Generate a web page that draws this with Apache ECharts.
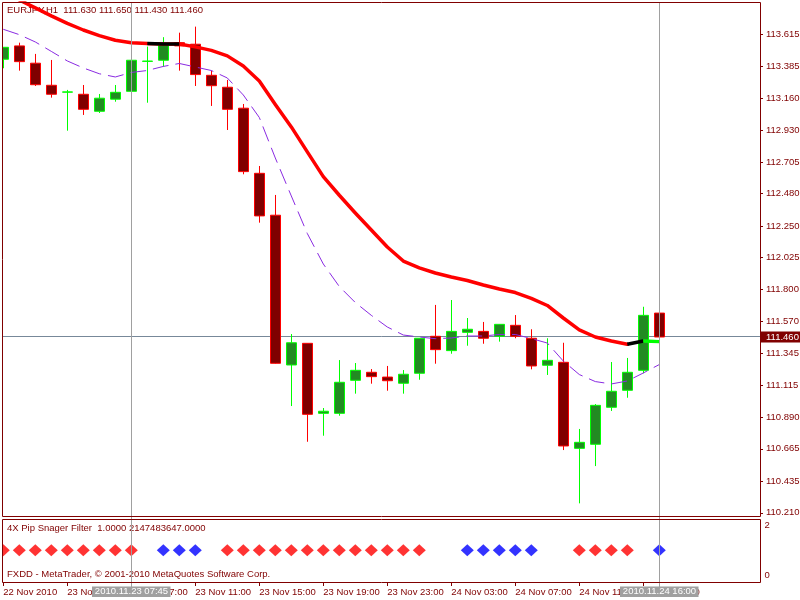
<!DOCTYPE html>
<html><head><meta charset="utf-8">
<script src="https://cdn.jsdelivr.net/npm/echarts@6/dist/echarts.min.js"></script>
<style>html,body{margin:0;padding:0;background:#fff}#c{width:800px;height:600px}</style>
</head><body><div id="c"></div>
<script>
const categories = [
 '22 Nov 23:00','23 Nov 00:00','23 Nov 01:00','23 Nov 02:00','23 Nov 03:00','23 Nov 04:00','23 Nov 05:00','23 Nov 06:00',
 '23 Nov 07:00','23 Nov 08:00','23 Nov 09:00','23 Nov 10:00','23 Nov 11:00','23 Nov 12:00','23 Nov 13:00','23 Nov 14:00',
 '23 Nov 15:00','23 Nov 16:00','23 Nov 17:00','23 Nov 18:00','23 Nov 19:00','23 Nov 20:00','23 Nov 21:00','23 Nov 22:00',
 '23 Nov 23:00','24 Nov 00:00','24 Nov 01:00','24 Nov 02:00','24 Nov 03:00','24 Nov 04:00','24 Nov 05:00','24 Nov 06:00',
 '24 Nov 07:00','24 Nov 08:00','24 Nov 09:00','24 Nov 10:00','24 Nov 11:00','24 Nov 12:00','24 Nov 13:00','24 Nov 14:00',
 '24 Nov 15:00','24 Nov 16:00','24 Nov 17:00','24 Nov 18:00','24 Nov 19:00','24 Nov 20:00','24 Nov 21:00','24 Nov 22:00'
];
const firstTickLabel = '22 Nov 2010';
const opens  = [113.435,113.530,113.407,113.250,113.201,113.186,113.065,113.151,113.207,113.420,113.428,113.553,113.542,113.321,113.236,113.087,112.624,112.326,111.261,111.415,110.917,110.917,111.152,111.209,111.175,111.131,111.202,111.465,111.363,111.493,111.500,111.465,111.543,111.451,111.259,111.280,110.668,110.697,110.960,111.081,111.223,111.630];
const closes = [113.520,113.418,113.254,113.186,113.203,113.079,113.158,113.200,113.428,113.422,113.537,113.530,113.326,113.247,113.079,112.636,112.321,111.273,111.419,110.910,110.932,111.138,111.223,111.178,111.149,111.195,111.451,111.370,111.500,111.515,111.451,111.550,111.465,111.254,111.294,110.685,110.711,110.974,111.074,111.209,111.614,111.460];
const lows   = [113.371,113.354,113.245,113.162,112.927,113.039,113.053,113.133,113.205,113.126,113.382,113.354,113.245,113.103,112.932,112.617,112.273,111.270,110.969,110.715,110.758,110.900,111.057,111.128,111.078,111.057,111.156,111.270,111.341,111.398,111.412,111.427,111.451,111.230,111.190,110.656,110.277,110.542,110.934,111.028,111.202,111.430];
const highs  = [113.522,113.553,113.473,113.430,113.217,113.252,113.188,113.252,113.430,113.525,113.592,113.624,113.667,113.354,113.288,113.117,112.676,112.470,111.481,111.417,110.955,111.296,111.275,111.232,111.254,111.225,111.453,111.688,111.723,111.595,111.567,111.552,111.616,111.515,111.451,111.419,110.806,110.983,111.282,111.311,111.675,111.650];
const maSlow = [113.914,113.857,113.800,113.743,113.690,113.643,113.603,113.570,113.553,113.547,113.544,113.544,113.523,113.498,113.459,113.387,113.281,113.114,112.954,112.776,112.600,112.468,112.342,112.221,112.100,112.000,111.951,111.915,111.887,111.862,111.830,111.801,111.776,111.734,111.684,111.595,111.510,111.460,111.431,111.408,111.431,111.427];
const maFast = [113.648,113.610,113.558,113.491,113.423,113.373,113.332,113.309,113.341,113.355,113.384,113.405,113.380,113.355,113.302,113.181,113.021,112.733,112.463,112.196,111.979,111.819,111.705,111.614,111.531,111.474,111.460,111.448,111.453,111.467,111.467,111.478,111.478,111.449,111.417,111.289,111.193,111.143,111.126,111.147,111.204,111.264];
const filterSignal = ['R','R','R','R','R','R','R','R','R',null,'B','B','B',null,
 'R','R','R','R','R','R','R','R','R','R','R','R','R',null,null,
 'B','B','B','B','B',null,null,'R','R','R','R',null,'B'];
const priceTicks = [113.615,113.385,113.160,112.930,112.705,112.480,112.250,112.025,111.800,111.570,111.345,111.115,110.890,110.665,110.435,110.210];
const signalTicks = [0, 2];
const lastPrice = 111.460;
const titleText = 'EURJPY,H1  111.630 111.650 111.430 111.460';
const subTitleText = '4X Pip Snager Filter  1.0000 2147483647.0000';
const copyrightText = 'FXDD - MetaTrader, \u00a9 2001-2010 MetaQuotes Software Corp.';
const cursorMarks = [{index: 8, label: '2010.11.23 07:45'}, {index: 41, label: '2010.11.24 16:00'}];

const FONT = 'Liberation Sans';
const FS = 9.5;
const AXC = '#800000';

const candleData = opens.map((o, i) => [o, closes[i], lows[i], highs[i]]);
const seg = (a, b) => maSlow.map((v, i) => (i >= a && i <= b ? v : null));
const redSig = filterSignal.map((s, i) => s === 'R' ? [i, 1] : null).filter(Boolean);
const blueSig = filterSignal.map((s, i) => s === 'B' ? [i, 1] : null).filter(Boolean);

const chart = echarts.init(document.getElementById('c'), null, {renderer: 'canvas'});
const option = {
  animation: false,
  backgroundColor: '#ffffff',
  grid: [
    {left: -4.7, top: 3, width: 768, height: 513, containLabel: false, outerBoundsMode: 'none'},
    {left: -4.7, top: 519, width: 768, height: 63, containLabel: false, outerBoundsMode: 'none'}
  ],
  xAxis: [
    {type: 'category', gridIndex: 0, data: categories, boundaryGap: true, show: false},
    {type: 'category', gridIndex: 1, data: categories, boundaryGap: true, position: 'bottom',
      axisLine: {show: false, onZero: false},
      axisTick: {show: true, inside: false, alignWithLabel: true, length: 4, lineStyle: {color: AXC},
        interval: (idx) => idx % 4 === 0 && idx < opens.length},
      axisLabel: {show: true, align: 'left', margin: 5, color: AXC, fontSize: FS, fontFamily: FONT,
        interval: (idx) => idx % 4 === 0 && idx < opens.length,
        formatter: (v, idx) => idx === 0 ? firstTickLabel : v},
      splitLine: {show: false}}
  ],
  yAxis: [
    {type: 'value', gridIndex: 0, position: 'right', offset: -3.3, min: 110.187, max: 113.835, scale: true,
      splitLine: {show: false}, axisLine: {show: false},
      axisTick: {show: true, length: 3, customValues: priceTicks, lineStyle: {color: AXC}},
      axisLabel: {customValues: priceTicks, formatter: v => v.toFixed(3), color: AXC, fontSize: FS, fontFamily: FONT, margin: 6}},
    {type: 'value', gridIndex: 1, position: 'right', offset: -3.3, min: -0.25, max: 2.24,
      splitLine: {show: false}, axisLine: {show: false}, axisTick: {show: false},
      axisLabel: {customValues: signalTicks, formatter: v => String(v), color: AXC, fontSize: FS, fontFamily: FONT, margin: 4.5}}
  ],
  series: [
    {type: 'candlestick', xAxisIndex: 0, yAxisIndex: 0, data: candleData, barWidth: 11, z: 2,
      itemStyle: {color: '#228b22', color0: '#800000', borderColor: '#00ff00', borderColor0: '#ff0000', borderWidth: 1}},
    {type: 'line', xAxisIndex: 0, yAxisIndex: 0, data: seg(0, 39), symbol: 'none', z: 3,
      lineStyle: {color: '#ff0000', width: 3.5, join: 'round', cap: 'round'}},
    {type: 'line', xAxisIndex: 0, yAxisIndex: 0, data: seg(9, 11), symbol: 'none', z: 4,
      lineStyle: {color: '#000000', width: 3.5}},
    {type: 'line', xAxisIndex: 0, yAxisIndex: 0, data: seg(39, 40), symbol: 'none', z: 4,
      lineStyle: {color: '#000000', width: 3.5}},
    {type: 'line', xAxisIndex: 0, yAxisIndex: 0, data: seg(40, 41), symbol: 'none', z: 4,
      lineStyle: {color: '#00ff00', width: 3.5}},
    {type: 'line', xAxisIndex: 0, yAxisIndex: 0, data: maFast, symbol: 'none', z: 5,
      lineStyle: {color: '#8a2be2', width: 1, type: [16, 7]}},
    {type: 'scatter', xAxisIndex: 1, yAxisIndex: 1, data: redSig, symbol: 'diamond', symbolSize: [13, 12],
      itemStyle: {color: '#ff0000'}},
    {type: 'scatter', xAxisIndex: 1, yAxisIndex: 1, data: blueSig, symbol: 'diamond', symbolSize: [13, 12],
      itemStyle: {color: '#0000ff'}}
  ]
};
chart.setOption(option);

const yP = chart.convertToPixel({yAxisIndex: 0}, lastPrice);
const yLine = Math.floor(yP) + 0.5;
const txt = (x, y, text, fill, z) => ({type: 'text', x: x, y: y, z: z || 0, silent: true,
  style: {text: text, fill: fill, font: FS + 'px "' + FONT + '"', textVerticalAlign: 'middle', verticalAlign: 'middle'}});
const graphics = [
  {type: 'line', z: 0, silent: true, shape: {x1: 2.5, y1: yLine, x2: 760, y2: yLine}, style: {stroke: '#778899', lineWidth: 1}},
  txt(7, 10.5, titleText, AXC, 0),
  txt(7, 528.3, subTitleText, AXC, 0),
  txt(7, 574.5, copyrightText, AXC, 0),
  {type: 'rect', z: 90, silent: true, shape: {x: 0, y: 0, width: 2, height: 600}, style: {fill: '#ffffff'}},
  {type: 'rect', z: 95, silent: true, shape: {x: 2.5, y: 2.5, width: 758, height: 514}, style: {fill: null, stroke: AXC, lineWidth: 1}},
  {type: 'rect', z: 95, silent: true, shape: {x: 2.5, y: 519.5, width: 758, height: 63}, style: {fill: null, stroke: AXC, lineWidth: 1}},
  {type: 'rect', z: 96, silent: true, shape: {x: 761, y: Math.round(yP) - 5.5, width: 39, height: 11}, style: {fill: '#800000'}},
  txt(766, Math.round(yP), lastPrice.toFixed(3), '#ffffff', 97)
];
cursorMarks.forEach(m => {
  const x = Math.floor(chart.convertToPixel({xAxisIndex: 0}, m.index)) + 0.5;
  graphics.push({type: 'line', z: 80, silent: true, shape: {x1: x, y1: 3, x2: x, y2: 587}, style: {stroke: '#a0a0a0', lineWidth: 1}});
  graphics.push({type: 'rect', z: 98, silent: true, shape: {x: x - 39.5, y: 586.5, width: 78.5, height: 10.5}, style: {fill: '#a0a0a0'}});
  graphics.push({type: 'text', z: 99, silent: true, x: x, y: 591.8,
    style: {text: m.label, fill: '#ffffff', font: FS + 'px "' + FONT + '"', align: 'center', textAlign: 'center', verticalAlign: 'middle', textVerticalAlign: 'middle'}});
});
chart.setOption({graphic: graphics});
</script>
</body></html>
